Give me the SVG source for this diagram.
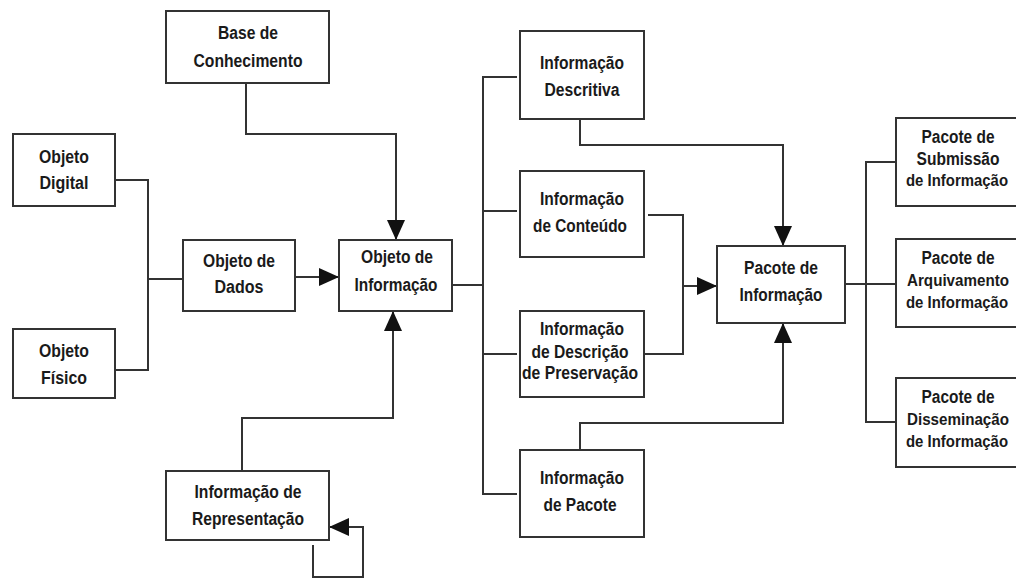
<svg xmlns="http://www.w3.org/2000/svg" width="1016" height="578" viewBox="0 0 1016 578">
<style>
.box{fill:#fff;stroke:#333;stroke-width:2}
.ln{fill:none;stroke:#333;stroke-width:2}
text{font-family:"Liberation Sans",Arial,sans-serif;font-weight:bold;font-size:18px;fill:#1a1a1a;text-anchor:middle}
text.sm{font-size:16px}
</style>
<defs>
<marker id="ah" markerUnits="userSpaceOnUse" markerWidth="20" markerHeight="18" refX="20" refY="9" orient="auto">
<path d="M0,0 L20,9 L0,18 Z" fill="#111"/>
</marker>
</defs>
<rect width="1016" height="578" fill="#fff"/>
<g id="connectors">
<path class="ln" d="M115,180 H148 V370 H115"/>
<path class="ln" d="M148,279 H183"/>
<path class="ln" d="M295,277 H339" marker-end="url(#ah)"/>
<path class="ln" d="M246,83 V134 H396 V240" marker-end="url(#ah)"/>
<path class="ln" d="M242,471 V418 H393 V311" marker-end="url(#ah)"/>
<path class="ln" d="M313,545 V577 H363 V527 H329" marker-end="url(#ah)"/>
<path class="ln" d="M452,285 H483"/>
<path class="ln" d="M517,77 H483 V494 H517"/>
<path class="ln" d="M483,211 H517"/>
<path class="ln" d="M483,354 H517"/>
<path class="ln" d="M580,119 V145 H783 V246" marker-end="url(#ah)"/>
<path class="ln" d="M648,215 H683 V354 H644"/>
<path class="ln" d="M683,286 H717" marker-end="url(#ah)"/>
<path class="ln" d="M580,450 V423 H783 V323" marker-end="url(#ah)"/>
<path class="ln" d="M845,284 H896"/>
<path class="ln" d="M896,162 H866 V422 H896"/>
</g>
<g id="base-conhecimento">
<rect class="box" x="166" y="11" width="163" height="72"/>
<text x="248" y="39" textLength="60" lengthAdjust="spacingAndGlyphs">Base de</text>
<text x="248" y="67" textLength="109" lengthAdjust="spacingAndGlyphs">Conhecimento</text>
</g>
<g id="objeto-digital">
<rect class="box" x="13" y="134" width="102" height="72"/>
<text x="64" y="163" textLength="50" lengthAdjust="spacingAndGlyphs">Objeto</text>
<text x="64" y="189" textLength="49" lengthAdjust="spacingAndGlyphs">Digital</text>
</g>
<g id="objeto-fisico">
<rect class="box" x="13" y="329" width="102" height="69"/>
<text x="64" y="357" textLength="50" lengthAdjust="spacingAndGlyphs">Objeto</text>
<text x="64" y="384" textLength="46" lengthAdjust="spacingAndGlyphs">Físico</text>
</g>
<g id="objeto-dados">
<rect class="box" x="183" y="240" width="112" height="71"/>
<text x="239" y="267" textLength="72" lengthAdjust="spacingAndGlyphs">Objeto de</text>
<text x="239" y="293" textLength="49" lengthAdjust="spacingAndGlyphs">Dados</text>
</g>
<g id="objeto-informacao">
<rect class="box" x="339" y="240" width="113" height="71"/>
<text x="397" y="263" textLength="72" lengthAdjust="spacingAndGlyphs">Objeto de</text>
<text x="396" y="291" textLength="83" lengthAdjust="spacingAndGlyphs">Informação</text>
</g>
<g id="informacao-representacao">
<rect class="box" x="166" y="471" width="163" height="69"/>
<text x="248" y="498" textLength="107" lengthAdjust="spacingAndGlyphs">Informação de</text>
<text x="248" y="525" textLength="112" lengthAdjust="spacingAndGlyphs">Representação</text>
</g>
<g id="informacao-descritiva">
<rect class="box" x="520" y="31" width="124" height="88"/>
<text x="582" y="69" textLength="84" lengthAdjust="spacingAndGlyphs">Informação</text>
<text x="582" y="96" textLength="75" lengthAdjust="spacingAndGlyphs">Descritiva</text>
</g>
<g id="informacao-conteudo">
<rect class="box" x="520" y="171" width="124" height="86"/>
<text x="582" y="205" textLength="84" lengthAdjust="spacingAndGlyphs">Informação</text>
<text x="580" y="232" textLength="94" lengthAdjust="spacingAndGlyphs">de Conteúdo</text>
</g>
<g id="informacao-preservacao">
<rect class="box" x="520" y="311" width="124" height="86"/>
<text x="582" y="335" textLength="84" lengthAdjust="spacingAndGlyphs">Informação</text>
<text x="580" y="358" textLength="97" lengthAdjust="spacingAndGlyphs">de Descrição</text>
<text x="580" y="379" textLength="116" lengthAdjust="spacingAndGlyphs">de Preservação</text>
</g>
<g id="informacao-pacote">
<rect class="box" x="520" y="450" width="124" height="87"/>
<text x="582" y="484" textLength="84" lengthAdjust="spacingAndGlyphs">Informação</text>
<text x="580" y="511" textLength="73" lengthAdjust="spacingAndGlyphs">de Pacote</text>
</g>
<g id="pacote-informacao">
<rect class="box" x="717" y="246" width="128" height="77"/>
<text x="781" y="274" textLength="74" lengthAdjust="spacingAndGlyphs">Pacote de</text>
<text x="781" y="301" textLength="83" lengthAdjust="spacingAndGlyphs">Informação</text>
</g>
<g id="pacote-submissao">
<rect class="box" x="896" y="118" width="128" height="88"/>
<text x="958" y="143" textLength="73" lengthAdjust="spacingAndGlyphs">Pacote de</text>
<text x="958" y="165" textLength="83" lengthAdjust="spacingAndGlyphs">Submissão</text>
<text class="sm" x="957" y="186" textLength="102" lengthAdjust="spacingAndGlyphs">de Informação</text>
</g>
<g id="pacote-arquivamento">
<rect class="box" x="896" y="239" width="128" height="88"/>
<text x="958" y="264" textLength="73" lengthAdjust="spacingAndGlyphs">Pacote de</text>
<text class="sm" x="958" y="286" textLength="102" lengthAdjust="spacingAndGlyphs">Arquivamento</text>
<text class="sm" x="957" y="308" textLength="102" lengthAdjust="spacingAndGlyphs">de Informação</text>
</g>
<g id="pacote-disseminacao">
<rect class="box" x="896" y="378" width="128" height="89"/>
<text x="958" y="403" textLength="73" lengthAdjust="spacingAndGlyphs">Pacote de</text>
<text class="sm" x="958" y="425" textLength="102" lengthAdjust="spacingAndGlyphs">Disseminação</text>
<text class="sm" x="957" y="447" textLength="102" lengthAdjust="spacingAndGlyphs">de Informação</text>
</g>
</svg>
